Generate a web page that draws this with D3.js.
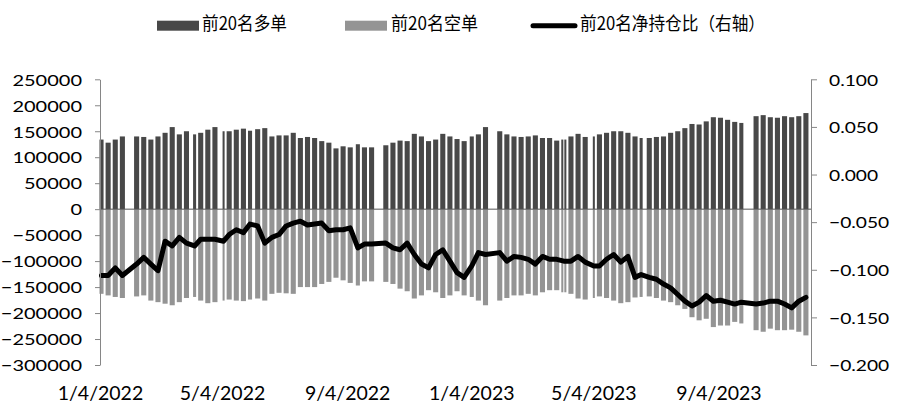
<!DOCTYPE html>
<html>
<head>
<meta charset="utf-8">
<script src="https://cdn.jsdelivr.net/npm/d3@7"></script>
<style>
body { margin: 0; background: #fff; }
svg { display: block; }
.tick-label { font-family: Lato, 'Open Sans', sans-serif; fill: #000; }
.legend-label { font-family: 'Noto Sans CJK SC', sans-serif; fill: #000; }
</style>
</head>
<body>
<svg id="chart" width="900" height="410"></svg>
<script>

// one value per trading week (weeks closed for a whole holiday are left out)
var firstMonday = '2022-01-03';
var lastDay = '2023-12-04';

var holidays = [
    '2022-01-03', '2022-01-31', '2022-02-01', '2022-02-02', '2022-02-03', '2022-02-04',
    '2022-04-04', '2022-04-05', '2022-05-02', '2022-05-03', '2022-05-04', '2022-06-03',
    '2022-09-12', '2022-10-03', '2022-10-04', '2022-10-05', '2022-10-06', '2022-10-07',
    '2023-01-02', '2023-01-23', '2023-01-24', '2023-01-25', '2023-01-26', '2023-01-27',
    '2023-04-05', '2023-05-01', '2023-05-02', '2023-05-03', '2023-06-22', '2023-06-23',
    '2023-09-29', '2023-10-02', '2023-10-03', '2023-10-04', '2023-10-05', '2023-10-06'
];

var longPos = [
    134000, 128000, 134000, 140000, 140000, 139000, 134000, 140000, 147000, 158000,
    144000, 150000, 144000, 147000, 153000, 158000, 150000, 150000, 153000, 155000,
    151000, 154000, 156000, 140000, 142000, 142000, 147000, 137000, 139000, 137000,
    131000, 128000, 117000, 121000, 119000, 125000, 119000, 119000, 123000, 128000,
    132000, 131000, 145000, 140000, 131000, 134000, 145000, 140000, 135000, 131000,
    140000, 144000, 158000, 150000, 144000, 140000, 139000, 140000, 142000, 137000,
    137000, 132000, 134000, 140000, 145000, 139000, 140000, 144000, 147000, 150000,
    150000, 147000, 140000, 137000, 137000, 139000, 140000, 147000, 150000, 156000,
    164000, 163000, 169000, 177000, 176000, 172000, 168000, 166000, 179000, 181000,
    177000, 176000, 179000, 177000, 179000, 185000
];

var shortPos = [
    -163000, -166000, -169000, -171000, -168000, -166000, -176000, -179000, -182000, -185000,
    -179000, -171000, -169000, -176000, -181000, -179000, -176000, -174000, -176000, -177000,
    -174000, -172000, -176000, -163000, -161000, -162000, -163000, -150000, -150000, -150000,
    -144000, -140000, -132000, -137000, -142000, -147000, -139000, -139000, -140000, -144000,
    -153000, -158000, -172000, -166000, -156000, -160000, -171000, -166000, -158000, -166000,
    -169000, -176000, -185000, -176000, -171000, -166000, -166000, -163000, -166000, -160000,
    -156000, -156000, -160000, -163000, -172000, -174000, -171000, -168000, -171000, -176000,
    -181000, -179000, -170000, -169000, -168000, -171000, -176000, -179000, -185000, -192000,
    -208000, -214000, -211000, -227000, -224000, -224000, -217000, -220000, -233000, -236000,
    -230000, -233000, -233000, -232000, -236000, -243000
];

var netRatio = [
    -0.106, -0.106, -0.098, -0.106, -0.094, -0.087, -0.094, -0.101, -0.070, -0.075,
    -0.066, -0.072, -0.075, -0.068, -0.068, -0.068, -0.070, -0.063, -0.058, -0.061,
    -0.052, -0.054, -0.072, -0.066, -0.063, -0.054, -0.051, -0.049, -0.053, -0.052,
    -0.051, -0.059, -0.058, -0.058, -0.056, -0.077, -0.073, -0.073, -0.072, -0.077,
    -0.079, -0.072, -0.084, -0.094, -0.098, -0.084, -0.079, -0.091, -0.103, -0.108,
    -0.096, -0.082, -0.084, -0.082, -0.091, -0.086, -0.087, -0.089, -0.094, -0.086,
    -0.089, -0.089, -0.091, -0.091, -0.086, -0.092, -0.096, -0.096, -0.089, -0.084,
    -0.092, -0.086, -0.108, -0.105, -0.108, -0.110, -0.115, -0.119, -0.126, -0.133,
    -0.138, -0.134, -0.127, -0.133, -0.132, -0.134, -0.136, -0.134, -0.136, -0.135,
    -0.133, -0.133, -0.136, -0.140, -0.133, -0.129
];

var dateTicks = ['2022-01-04', '2022-05-04', '2022-09-04', '2023-01-04', '2023-05-04', '2023-09-04'];
var leftTicks = [250000, 200000, 150000, 100000, 50000, 0, -50000, -100000, -150000, -200000, -250000, -300000];
var rightTicks = [0.1, 0.05, 0, -0.05, -0.1, -0.15, -0.2];
var legendLabels = ['前20名多单', '前20名空单', '前20名净持仓比（右轴）'];

var parseDate = d3.timeParse('%Y-%m-%d');
var keyDate = d3.timeFormat('%Y-%m-%d');


PosVis = function(svg, config) {

    this.svg = svg;
    this.config = config;
    this.canvas = svg.append('g')
        .attr('class', 'chart');

    this.weeks = [];

    this.x = undefined;
    this.yLeft = undefined;
    this.yRight = undefined;
    this.dayW = undefined;
};

// squeeze / widen a label so it takes the same room as in the picture
function fitText(sel, factor) {
    sel.each(function() {
        var w = this.getComputedTextLength();
        d3.select(this)
            .attr('textLength', w * factor)
            .attr('lengthAdjust', 'spacingAndGlyphs');
    });
}

Object.assign(PosVis.prototype, {

    init: function() {

        var self = this;
        var closed = new Set(holidays);

        var mondays = d3.timeMonday.range(parseDate(firstMonday), parseDate(lastDay));

        mondays.forEach(function(mon) {
            var days = d3.timeDay.range(mon, d3.timeDay.offset(mon, 5))
                .filter(function(d) { return !closed.has(keyDate(d)); });
            if (days.length) self.weeks.push({'days': days});
        });

        self.weeks.forEach(function(w, i) {
            w.long = longPos[i];
            w.short = shortPos[i];
            w.ratio = netRatio[i];

            //consecutive trading days become one block
            w.runs = [];
            w.days.forEach(function(d) {
                var run = w.runs[w.runs.length - 1];
                if (run && d3.timeDay.count(run[run.length - 1], d) == 1) run.push(d);
                else w.runs.push([d]);
            });
        });

        return this;
    },

    layout: function() {

        var c = this.config;

        this.x = d3.scaleTime()
            .domain([parseDate(dateTicks[0]), parseDate(lastDay)])
            .range([c.left, c.right]);

        this.yLeft = d3.scaleLinear()
            .domain([leftTicks[leftTicks.length - 1], leftTicks[0]])
            .range([c.bottom, c.top]);

        this.yRight = d3.scaleLinear()
            .domain([rightTicks[rightTicks.length - 1], rightTicks[0]])
            .range([c.bottom, c.top]);

        var d0 = parseDate(dateTicks[0]);
        this.dayW = this.x(d3.timeDay.offset(d0, 1)) - this.x(d0);

        return this;
    },

    drawBars: function() {

        var self = this;
        var blocks = [];

        self.weeks.forEach(function(w) {
            w.runs.forEach(function(r) {
                blocks.push({'run': r, 'week': w});
            });
        });

        var x0 = function(b) { return self.x(b.run[0]) - self.dayW / 2; };
        var bw = function(b) {
            return self.x(b.run[b.run.length - 1]) - self.x(b.run[0]) + self.dayW;
        };

        self.canvas.append('g')
            .attr('class', 'long')
            .selectAll('rect')
            .data(blocks)
            .enter()
            .append('rect')
            .attr('x', x0)
            .attr('width', bw)
            .attr('y', function(b) { return self.yLeft(b.week.long); })
            .attr('height', function(b) { return self.yLeft(0) - self.yLeft(b.week.long); })
            .attr('fill', self.config.longColor);

        self.canvas.append('g')
            .attr('class', 'short')
            .selectAll('rect')
            .data(blocks)
            .enter()
            .append('rect')
            .attr('x', x0)
            .attr('width', bw)
            .attr('y', self.yLeft(0))
            .attr('height', function(b) { return self.yLeft(b.week.short) - self.yLeft(0); })
            .attr('fill', self.config.shortColor);

        //zero line
        self.canvas.append('line')
            .attr('x1', self.config.left)
            .attr('x2', self.config.right)
            .attr('y1', self.yLeft(0))
            .attr('y2', self.yLeft(0))
            .attr('stroke', '#555')
            .attr('stroke-width', 1);

        return this;
    },

    drawLine: function() {

        var self = this;

        var line = d3.line()
            .x(function(w) { return d3.mean(w.days, function(d) { return self.x(d); }); })
            .y(function(w) { return self.yRight(w.ratio); });

        self.canvas.append('path')
            .datum(self.weeks)
            .attr('class', 'ratio')
            .attr('d', line)
            .attr('fill', 'none')
            .attr('stroke', '#000')
            .attr('stroke-width', 5)
            .attr('stroke-linejoin', 'round')
            .attr('stroke-linecap', 'round');

        return this;
    },

    drawAxes: function() {

        var self = this;
        var c = self.config;

        var left = self.canvas.append('g')
            .attr('transform', 'translate(' + c.left + ',0)')
            .call(d3.axisLeft(self.yLeft)
                .tickValues(leftTicks)
                .tickFormat(d3.format('d'))
                .tickSize(5)
                .tickSizeOuter(0)
                .tickPadding(13));

        var right = self.canvas.append('g')
            .attr('transform', 'translate(' + c.right + ',0)')
            .call(d3.axisRight(self.yRight)
                .tickValues(rightTicks)
                .tickFormat(d3.format('.3f'))
                .tickSize(6)
                .tickSizeOuter(0)
                .tickPadding(12));

        [left, right].forEach(function(g) {
            g.select('.domain').attr('stroke', c.axisColor);
            g.selectAll('.tick line').attr('stroke', c.axisColor);
            g.selectAll('.tick text')
                .attr('class', 'tick-label')
                .attr('font-size', 16)
                .attr('dy', '0.36em');
        });

        left.selectAll('.tick text').call(fitText, 1.25);
        right.selectAll('.tick text').call(fitText, 1.2);

        //date labels, no axis line
        var bottom = self.canvas.append('g')
            .attr('transform', 'translate(0,' + c.dateY + ')')
            .call(d3.axisBottom(self.x)
                .tickValues(dateTicks.map(parseDate))
                .tickFormat(d3.timeFormat('%-m/%-d/%Y'))
                .tickSize(0));

        bottom.select('.domain').remove();
        bottom.selectAll('.tick text')
            .attr('class', 'tick-label')
            .attr('font-size', 19.5)
            .attr('y', 0)
            .attr('dy', null);

        return this;
    },

    drawLegend: function() {

        var self = this;
        var c = self.config;

        var items = self.svg.append('g')
            .attr('class', 'legend')
            .selectAll('.item')
            .data(legendLabels)
            .enter()
            .append('g')
            .attr('class', 'item');

        items.each(function(label, i) {
            var g = d3.select(this);
            var sx = c.legendX[i];
            if (i < 2) {
                g.append('rect')
                    .attr('x', sx)
                    .attr('y', c.legendY - 5)
                    .attr('width', 42)
                    .attr('height', 10)
                    .attr('fill', i == 0 ? c.longColor : c.shortColor);
            } else {
                g.append('line')
                    .attr('x1', sx + 2)
                    .attr('x2', sx + 44)
                    .attr('y1', c.legendY)
                    .attr('y2', c.legendY)
                    .attr('stroke', '#000')
                    .attr('stroke-width', 5)
                    .attr('stroke-linecap', 'round');
            }
            g.append('text')
                .attr('class', 'legend-label')
                .attr('x', c.legendTextX[i])
                .attr('y', c.legendY + 4)
                .attr('font-size', 18)
                .attr('textLength', c.legendTextW[i])
                .attr('lengthAdjust', 'spacingAndGlyphs')
                .text(label);
        });

        return this;
    },

    draw: function() {
        return this.drawBars()
            .drawLine()
            .drawAxes()
            .drawLegend();
    }
});


var vis = new PosVis(d3.select('#chart'), {
    left: 100,
    right: 811,
    top: 79.3,
    bottom: 365,
    dateY: 400,
    longColor: '#484848',
    shortColor: '#949494',
    axisColor: '#868686',
    legendY: 25.7,
    legendX: [157, 345, 531],
    legendTextX: [202, 391, 580],
    legendTextW: [85, 87, 185]
});

vis.init()
    .layout()
    .draw();

</script>
</body>
</html>
